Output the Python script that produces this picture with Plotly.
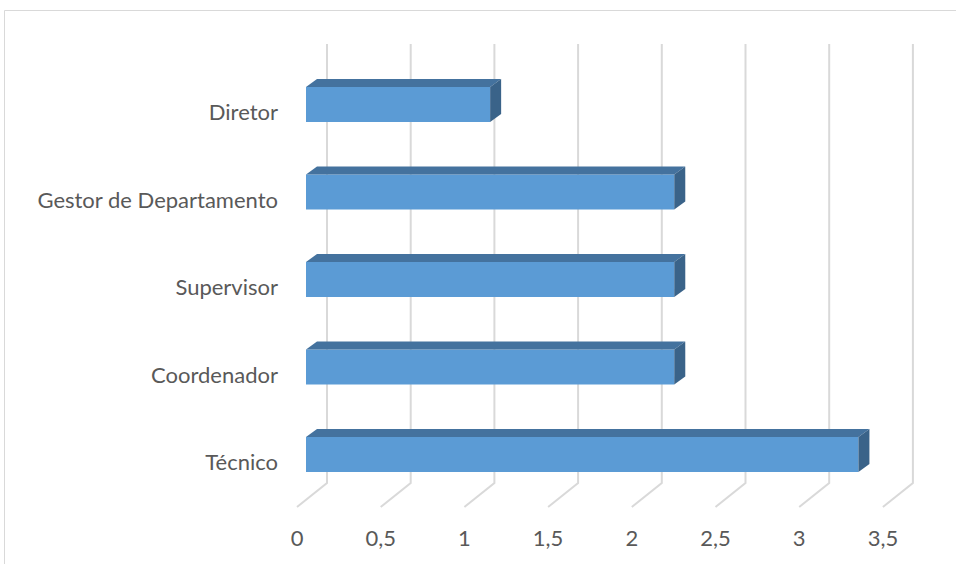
import plotly.graph_objects as go

categories = ["Técnico", "Coordenador", "Supervisor", "Gestor de Departamento", "Diretor"]
values = [3.3, 2.2, 2.2, 2.2, 1.1]
tick_vals = [0, 0.5, 1, 1.5, 2, 2.5, 3, 3.5]
tick_text = ["0", "0,5", "1", "1,5", "2", "2,5", "3", "3,5"]

# pixel scale helpers (px per unit)
PX_X = 167.4
PX_Y = 87.5
W, H = 956, 564
ML, MB = 285, 44

ypos = list(range(len(categories)))

# 3D geometry in data units
d0 = 9 / PX_X          # bar front face starts slightly behind the front edge
back = 30 / PX_X       # floor depth (x shift)
dx = 11 / PX_X         # bar depth x
dy = 8 / PX_Y          # bar depth y
half = 17.5 / PX_Y     # bar half thickness
label_shift = 8 / PX_Y
grid_top = (454.5 - 44) / PX_Y
grid_bot_back = (454.5 - 483) / PX_Y
grid_bot_front = (454.5 - 507) / PX_Y

fig = go.Figure()

shapes = []
# gridlines (back walls + floor diagonals), drawn below the bars
for v in tick_vals:
    shapes.append(dict(type="path", xref="x", yref="y", layer="below",
                       path=f"M{v + back},{grid_top} L{v + back},{grid_bot_back} L{v},{grid_bot_front}",
                       line=dict(color="#D9D9D9", width=2)))

# front faces
fig.add_trace(go.Bar(
    y=ypos, x=values, base=[d0] * len(values), orientation="h", width=2 * half,
    marker=dict(color="#5B9BD5", line=dict(width=0)), showlegend=False, hoverinfo="skip"))

# top and side faces
for yi, v in zip(ypos, values):
    x0, x1 = d0, d0 + v
    yt, yb = yi + half, yi - half
    fig.add_trace(go.Scatter(
        x=[x0, x0 + dx, x1 + dx, x1, x0], y=[yt, yt + dy, yt + dy, yt, yt],
        fill="toself", fillcolor="#44729E", mode="lines", line=dict(width=0, color="#44729E"),
        hoverinfo="skip", showlegend=False))
    fig.add_trace(go.Scatter(
        x=[x1, x1 + dx, x1 + dx, x1, x1], y=[yt, yt + dy, yb + dy, yb, yt],
        fill="toself", fillcolor="#3A6389", mode="lines", line=dict(width=0, color="#3A6389"),
        hoverinfo="skip", showlegend=False))

plot_w = W - ML
plot_h = H - MB
x0r = -12 / PX_X
x1r = x0r + plot_w / PX_X
y1r = 454.5 / PX_Y
y0r = y1r - plot_h / PX_Y

shapes.append(dict(type="rect", xref="paper", yref="paper",
                   x0=-(ML - 4.5) / plot_w, x1=1.05, y0=-0.2, y1=1 - 10.5 / plot_h,
                   line=dict(color="#D9D9D9", width=1), fillcolor="rgba(0,0,0,0)", layer="below"))

fig.update_layout(
    width=W, height=H,
    margin=dict(l=ML, r=0, t=0, b=MB),
    paper_bgcolor="white", plot_bgcolor="white",
    font=dict(family="Lato, Open Sans, sans-serif", size=22, color="#595959"),
    xaxis=dict(range=[x0r, x1r], tickvals=tick_vals, ticktext=tick_text,
               showgrid=False, zeroline=False, showline=False, ticks="",
               ticklabelstandoff=3, fixedrange=True),
    yaxis=dict(range=[y0r, y1r], tickvals=[y - label_shift for y in ypos], ticktext=categories,
               showgrid=False, zeroline=False, showline=False, ticks="",
               ticklabelstandoff=6, fixedrange=True),
    shapes=shapes,
)

fig.write_html("out.html")
